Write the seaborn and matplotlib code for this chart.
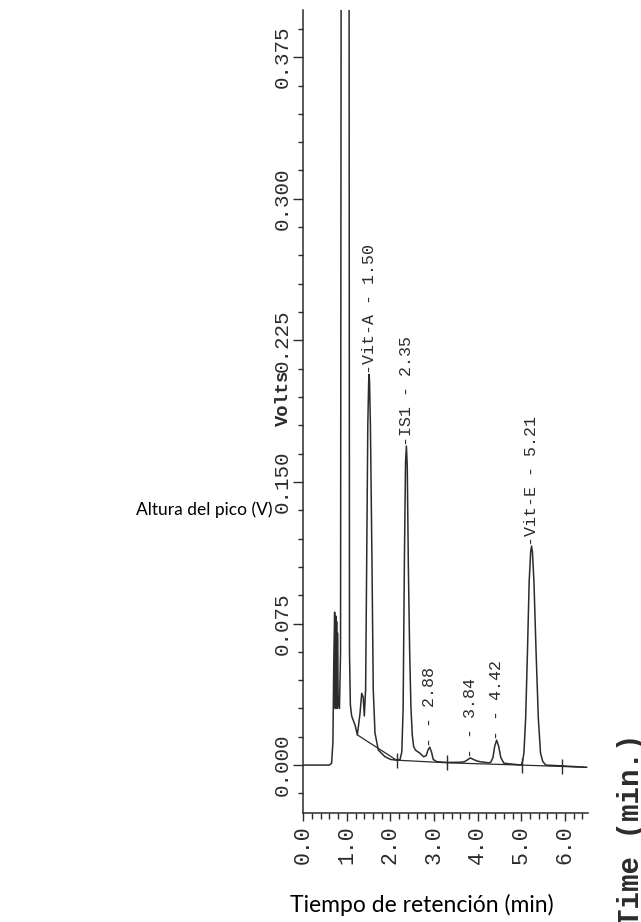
import matplotlib
matplotlib.use("Agg")
import matplotlib.pyplot as plt
import numpy as np
import pandas as pd
import seaborn as sns
from matplotlib.ticker import MultipleLocator, FormatStrFormatter

sns.set_theme(style="ticks")
plt.rcParams["font.family"] = ["Liberation Mono", "DejaVu Sans"]

# ================================================================
#  DATOS (leídos del cromatograma)
# ================================================================
tiempo = [0.00, 0.60, 0.65, 0.68, 0.70, 0.72, 0.735, 0.745, 0.755, 0.765,
          0.775, 0.785, 0.80, 0.83, 0.855, 0.87, 0.96, 1.05, 1.06, 1.08,
          1.11, 1.19, 1.24, 1.30, 1.34, 1.375, 1.40, 1.43, 1.455, 1.48,
          1.50, 1.51, 1.52, 1.54, 1.575, 1.605, 1.645, 1.72, 1.87, 2.00,
          2.14, 2.22, 2.26, 2.29, 2.32, 2.345, 2.365, 2.385, 2.41, 2.44,
          2.47, 2.50, 2.53, 2.57, 2.68, 2.76, 2.82, 2.86, 2.90, 2.94,
          2.98, 3.06, 3.30, 3.60, 3.70, 3.78, 3.83, 3.88, 3.98, 4.05,
          4.25, 4.30, 4.35, 4.39, 4.435, 4.48, 4.53, 4.60, 5.00, 5.03,
          5.06, 5.10, 5.14, 5.18, 5.215, 5.235, 5.255, 5.29, 5.34, 5.39,
          5.44, 5.49, 5.56, 6.00, 6.50]
voltios = [0.000, 0.000, 0.001, 0.012, 0.055, 0.081, 0.030, 0.079, 0.032, 0.076,
           0.030, 0.070, 0.035, 0.030, 0.060, 0.450, 1.600, 0.450, 0.060, 0.032,
           0.026, 0.021, 0.016, 0.027, 0.038, 0.036, 0.026, 0.040, 0.109, 0.180,
           0.203, 0.207, 0.203, 0.180, 0.109, 0.040, 0.017, 0.008, 0.0045, 0.003,
           0.0026, 0.003, 0.007, 0.030, 0.110, 0.160, 0.169, 0.158, 0.105, 0.060,
           0.030, 0.016, 0.010, 0.008, 0.0062, 0.0044, 0.005, 0.008, 0.0095, 0.007,
           0.003, 0.0018, 0.0014, 0.0015, 0.0018, 0.003, 0.0038, 0.0032, 0.0022, 0.0018,
           0.0012, 0.0015, 0.004, 0.010, 0.0132, 0.010, 0.004, 0.001, 0.000, 0.002,
           0.0065, 0.025, 0.059, 0.097, 0.113, 0.116, 0.113, 0.097, 0.059, 0.025,
           0.0065, 0.002, 0.000, -0.0005, -0.0012]

# líneas base de integración
base1_t = [1.24, 2.14]
base1_v = [0.016, 0.0026]
base2_t = [2.14, 3.30, 5.00, 6.50]
base2_v = [0.0026, 0.0012, 0.000, -0.0012]

# marcas de eventos sobre la línea base
eventos_t = [2.16, 3.29, 5.01, 5.93]

# picos etiquetados (posición del máximo y tiempo impreso)
picos_x = [1.51, 2.365, 2.90, 3.83, 4.435, 5.235]
picos_v = [0.207, 0.169, 0.0095, 0.0038, 0.0132, 0.116]
picos_rt = [1.50, 2.35, 2.88, 3.84, 4.42, 5.21]
picos_nombre = ["Vit-A", "IS1", "", "", "", "Vit-E"]

# ================================================================
#  GRÁFICO
# ================================================================
tinta = "#2b2b2b"
fig = plt.figure(figsize=(6.41, 9.22), dpi=100)
ax = fig.add_axes([0.4731, 0.1182, 0.4446, 0.8709])

df = pd.DataFrame({"t": tiempo, "v": voltios})
sns.lineplot(data=df, x="t", y="v", estimator=None, sort=False,
             color=tinta, linewidth=1.1, ax=ax)
ax.plot(base1_t, base1_v, color=tinta, linewidth=0.9)
ax.plot(base2_t, base2_v, color=tinta, linewidth=0.9)

base_ev = np.interp(eventos_t, base2_t, base2_v)
ax.vlines(eventos_t, base_ev - 0.004, base_ev + 0.004, color=tinta, linewidth=1.0)

for x, v, rt, nombre in zip(picos_x, picos_v, picos_rt, picos_nombre):
    ax.text(x, v, f"-{nombre} - {rt:.2f}", rotation=90, ha="center", va="bottom",
            fontsize=12, color=tinta)

ax.set_xlim(0, 6.535)
ax.set_ylim(-0.0254, 0.40)
ax.xaxis.set_major_locator(MultipleLocator(1.0))
ax.xaxis.set_minor_locator(MultipleLocator(0.2))
ax.yaxis.set_minor_locator(MultipleLocator(0.015))
ax.xaxis.set_major_formatter(FormatStrFormatter("%.1f"))
ax.set_yticks([0.0, 0.075, 0.150, 0.225, 0.300, 0.375])
ax.yaxis.set_major_formatter(FormatStrFormatter("%.3f"))

ax.tick_params(axis="both", which="both", direction="out", colors=tinta,
               labelcolor=tinta, width=1.0)
ax.tick_params(axis="y", which="major", length=7, pad=1.5, labelrotation=90, labelsize=15)
ax.tick_params(axis="y", which="minor", length=3.5)
ax.tick_params(axis="x", which="major", length=6, pad=3, labelrotation=90, labelsize=15.5)
ax.tick_params(axis="x", which="minor", length=4.5)
for lab in ax.get_yticklabels():
    lab.set_va("center")

sns.despine(ax=ax)
for s in ("left", "bottom"):
    ax.spines[s].set_color(tinta)
    ax.spines[s].set_linewidth(1.1)
ax.set_xlabel("")
ax.set_ylabel("")

# rótulos originales del equipo
fig.text(283 / 641, 1 - 398 / 922, "Volts", rotation=90, ha="center", va="center",
         fontsize=13.5, fontweight="bold", color=tinta)
fig.text(631 / 641, 1 - 733 / 922, "Time (min.)", rotation=90, ha="center", va="top",
         fontsize=21, fontweight="bold", color=tinta)

# rótulos añadidos en español
fig.text(272 / 641, 1 - 510 / 922, "Altura del pico (V)", ha="right", va="center",
         fontsize=12.5, family="Lato", color="black")
fig.text(422 / 641, 1 - 905 / 922, "Tiempo de retención (min)", ha="center", va="center",
         fontsize=16.5, family="Lato", color="black")

fig.savefig("out.png", dpi=100)
